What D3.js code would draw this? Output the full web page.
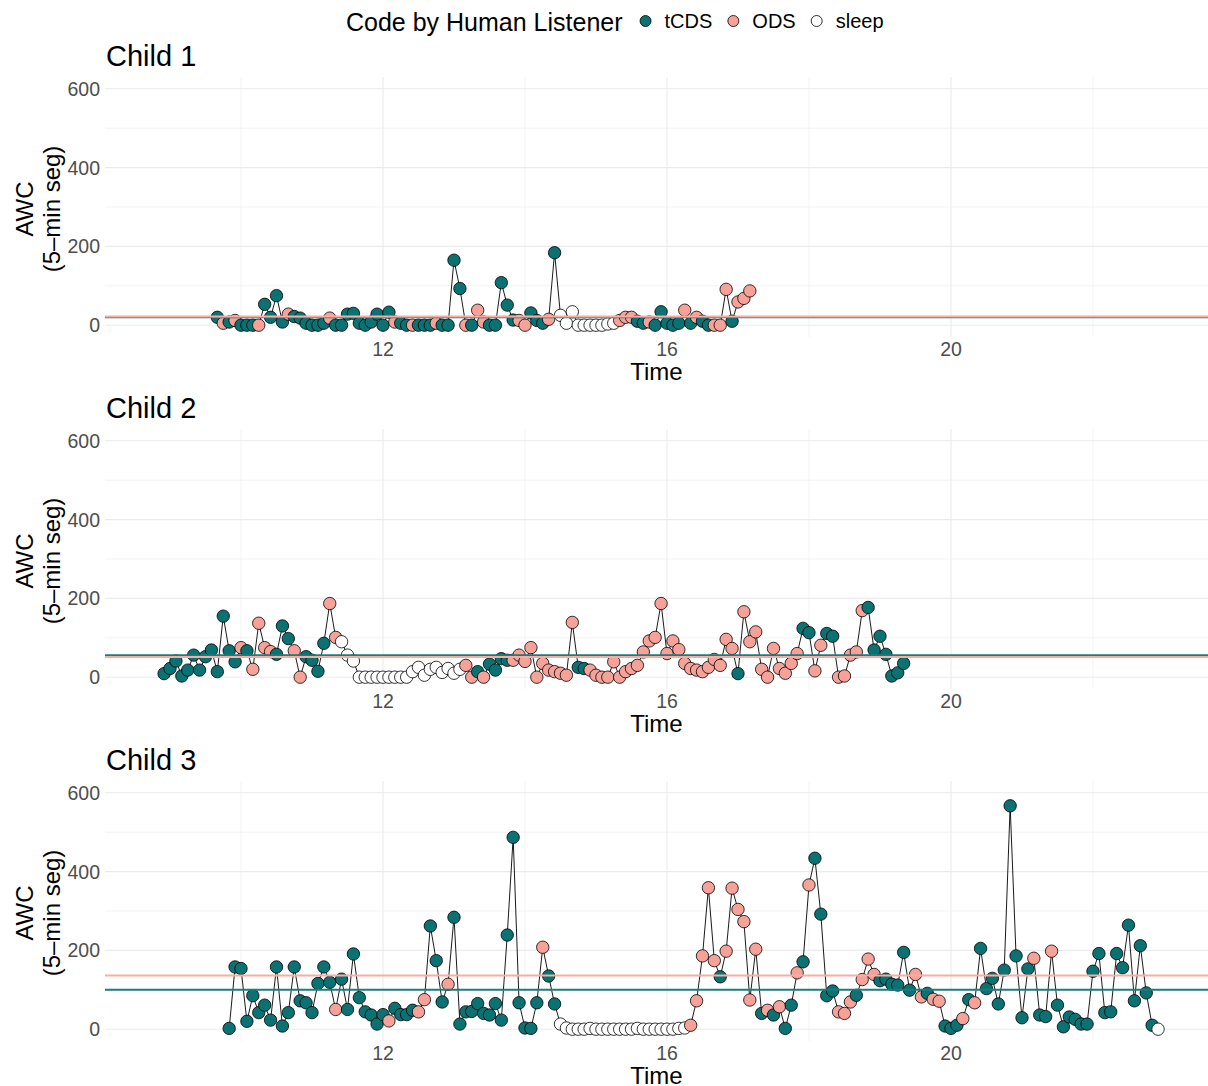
<!DOCTYPE html>
<html>
<head>
<meta charset="utf-8">
<script src="https://cdn.jsdelivr.net/npm/d3@7"></script>
<style>
  body { margin: 0; background: #fff; }
  svg { display: block; font-family: "Liberation Sans", Arial, Helvetica, sans-serif; }
</style>
</head>
<body>
<svg id="chart" width="1208" height="1086"></svg>
<script>
// ---- data: AWC per 5-minute segment, coded by a human listener ----
const codeNames = { T: "tCDS", O: "ODS", S: "sleep" };
const legendCodes = ["tCDS", "ODS", "sleep"];
const childNames = ["Child 1", "Child 2", "Child 3"];
// first segment start (hours of the day)
const startTimes = [9 + 40 / 60, 8 + 55 / 60, 9 + 50 / 60];

const child1Code = ("TOTOTTTOTT" + "TTOTTTTTTO" + "TTTTTTTTTT" + "OTTOTTTOTT" + "TTOTOOTTTT" +
                    "TOOTTTOTSS" + "SSSSSSSSOO" + "OTTOTTTTTO" + "TOTTOOOTOO" + "O").split("");
const child1Awc = [20,5,8,12,0,0,0,0,53,20,
                   75,8,28,22,18,5,0,0,5,18,
                   0,0,28,30,5,0,8,28,0,33,
                   8,5,0,0,0,0,0,5,0,0,
                   165,93,0,0,38,8,0,0,108,51,
                   13,12,0,31,12,5,15,184,25,5,
                   34,0,0,0,0,0,3,5,12,20,
                   20,10,5,8,0,34,5,0,5,38,
                   5,20,10,0,0,0,91,10,59,68,
                   87];

const child2Code = ("TTTTTTTTTT" + "TTTOTOOOOT" + "TTOOTTTTOO" + "SSSSSSSSSS" + "SSSSSSSSSS" +
                    "SOOTOTTTTO" + "OOOOOOOOOO" + "TTOOOOOOOO" + "OOOOOOOOOO" + "OOOOOOOTOO" +
                    "OOOOOOOOTT" + "OOTTOOOOOT" + "TTTTTT").split("");
const child2Awc = [9,22,41,3,18,56,18,52,69,14,
                   155,67,39,75,67,20,137,75,65,58,
                   130,98,67,0,52,43,15,86,187,101,
                   90,56,41,0,0,0,0,0,0,0,
                   0,0,14,25,5,20,25,12,22,10,
                   20,30,0,14,0,33,18,47,43,43,
                   56,40,75,0,35,18,14,10,5,139,
                   25,22,18,5,0,0,39,0,14,22,
                   30,64,92,101,187,60,92,70,35,22,
                   18,14,25,45,30,96,73,9,166,90,
                   115,20,0,73,22,10,35,60,124,113,
                   16,81,111,104,0,3,56,64,169,177,
                   69,104,58,3,11,35];

const child3Code = ("TTTTTTTTTT" + "TTTTTTTTOT" + "TTTTTTTOTT" + "TTOOTTTOTT" + "TTTTTTTTTT" +
                    "TTTOTTSSSS" + "SSSSSSSSSS" + "SSSSSSSSOO" + "OOOTOOOOOO" + "TOTOTTOTOT" +
                    "TTTOOOTOOO" + "TTTTTTOOTO" + "OTTTOTOTTT" + "TTTTTTOTTO" + "TTTTTTTTTT" +
                    "TTTTTTTS").split("");
const child3Awc = [2,158,154,20,85,42,61,23,158,8,
                   42,158,72,67,42,116,158,119,50,127,
                   50,191,80,44,36,13,37,21,53,37,
                   37,48,44,75,262,174,69,114,284,13,
                   44,45,65,40,36,65,23,239,487,67,
                   3,2,67,208,135,64,13,3,0,0,
                   0,2,0,0,0,0,0,0,0,2,
                   0,0,0,0,0,0,2,3,10,72,
                   186,359,174,133,198,358,304,273,74,203,
                   40,48,36,57,2,61,143,171,366,434,
                   292,85,97,44,40,69,86,126,178,139,
                   123,127,114,112,195,99,139,82,91,76,
                   71,8,2,10,27,75,67,205,103,129,
                   64,150,567,186,29,153,180,36,32,198,
                   61,6,31,25,13,13,147,192,42,44,
                   192,156,264,72,212,92,10,0];

const timeTicks = [12, 16, 20];
const timeMinorTicks = [10, 14, 18, 22];
const awcTicks = [0, 200, 400, 600];
const awcMinorTicks = [100, 300, 500];

// ---- styling ----
const fillFor = { tCDS: "#0B7273", ODS: "#F6A298", sleep: "#FFFFFF" };
const meanColor = { tCDS: "#1B7C7C", ODS: "#F8ACA3" };
const gridColor = "#EBEBEB";

// ---- layout ----
const svg = d3.select("#chart");
const plotLeft = 105, plotRight = 1208;
const panelTops = [77, 429, 781];
const panelH = 260;

const x = d3.scaleLinear().domain([8.0845, 23.62]).range([plotLeft, plotRight]);

const series = [
  { codes: child1Code, awc: child1Awc },
  { codes: child2Code, awc: child2Awc },
  { codes: child3Code, awc: child3Awc }
];

series.forEach((s, i) => {
  const top = panelTops[i];
  const bottom = top + panelH;
  const y = d3.scaleLinear().domain([-30, 630]).range([bottom, top]);
  const rows = s.awc.map((v, k) => ({
    t: startTimes[i] + k * 5 / 60,
    v: v,
    code: codeNames[s.codes[k]]
  }));

  const g = svg.append("g").attr("class", "panel");

  // grid
  const grid = g.append("g");
  grid.selectAll("line.ymin").data(awcMinorTicks).join("line")
    .attr("x1", plotLeft).attr("x2", plotRight)
    .attr("y1", d => y(d)).attr("y2", d => y(d))
    .attr("stroke", gridColor).attr("stroke-width", 0.6);
  grid.selectAll("line.xmin").data(timeMinorTicks).join("line")
    .attr("x1", d => x(d)).attr("x2", d => x(d))
    .attr("y1", top).attr("y2", bottom)
    .attr("stroke", gridColor).attr("stroke-width", 0.6);
  grid.selectAll("line.ymaj").data(awcTicks).join("line")
    .attr("x1", plotLeft).attr("x2", plotRight)
    .attr("y1", d => y(d)).attr("y2", d => y(d))
    .attr("stroke", gridColor).attr("stroke-width", 1.1);
  grid.selectAll("line.xmaj").data(timeTicks).join("line")
    .attr("x1", d => x(d)).attr("x2", d => x(d))
    .attr("y1", top).attr("y2", bottom)
    .attr("stroke", gridColor).attr("stroke-width", 1.1);

  // tick labels
  g.selectAll("text.ytick").data(awcTicks).join("text")
    .attr("x", plotLeft - 5).attr("y", d => y(d)).attr("dy", "0.36em")
    .attr("text-anchor", "end").attr("font-size", 19.5).attr("fill", "#4D4D4D")
    .text(d => d);
  g.selectAll("text.xtick").data(timeTicks).join("text")
    .attr("x", d => x(d)).attr("y", bottom + 19)
    .attr("text-anchor", "middle").attr("font-size", 19.5).attr("fill", "#4D4D4D")
    .text(d => d);

  // titles
  g.append("text").attr("x", plotLeft + 1).attr("y", top - 11)
    .attr("font-size", 29).attr("fill", "#000").text(childNames[i]);
  g.append("text").attr("x", (plotLeft + plotRight) / 2).attr("y", bottom + 43)
    .attr("text-anchor", "middle").attr("font-size", 24).attr("fill", "#000").text("Time");
  const yt = g.append("text")
    .attr("transform", `translate(0,${(top + bottom) / 2 + 2}) rotate(-90)`)
    .attr("text-anchor", "middle").attr("font-size", 24).attr("fill", "#000");
  yt.append("tspan").attr("x", 0).attr("y", 33).text("AWC");
  yt.append("tspan").attr("x", 0).attr("y", 60).text("(5\u2013min seg)");

  // connecting line
  g.append("path").datum(rows)
    .attr("fill", "none").attr("stroke", "#000").attr("stroke-width", 0.9)
    .attr("d", d3.line().x(d => x(d.t)).y(d => y(d.v)));

  // points
  g.selectAll("circle.pt").data(rows).join("circle")
    .attr("cx", d => x(d.t)).attr("cy", d => y(d.v)).attr("r", 6.2)
    .attr("fill", d => fillFor[d.code])
    .attr("stroke", "#000").attr("stroke-width", 0.8);

  // mean AWC per code
  ["tCDS", "ODS"].forEach(c => {
    const m = d3.mean(rows.filter(d => d.code === c), d => d.v);
    g.append("line")
      .attr("x1", plotLeft).attr("x2", plotRight)
      .attr("y1", y(m)).attr("y2", y(m))
      .attr("stroke", meanColor[c]).attr("stroke-width", 2);
  });
});

// ---- legend ----
const legend = svg.append("g");
const lt = legend.append("text").attr("x", 346).attr("y", 31)
  .attr("font-size", 25).attr("fill", "#000").text("Code by Human Listener");
let cursor = 346 + lt.node().getComputedTextLength() + 23;
legendCodes.forEach(c => {
  legend.append("circle").attr("cx", cursor).attr("cy", 21).attr("r", 5.5)
    .attr("fill", fillFor[c]).attr("stroke", "#000").attr("stroke-width", 0.8);
  const t = legend.append("text").attr("x", cursor + 19).attr("y", 28)
    .attr("font-size", 20).attr("fill", "#000").text(c);
  cursor += 19 + t.node().getComputedTextLength() + 21;
});
</script>
</body>
</html>
